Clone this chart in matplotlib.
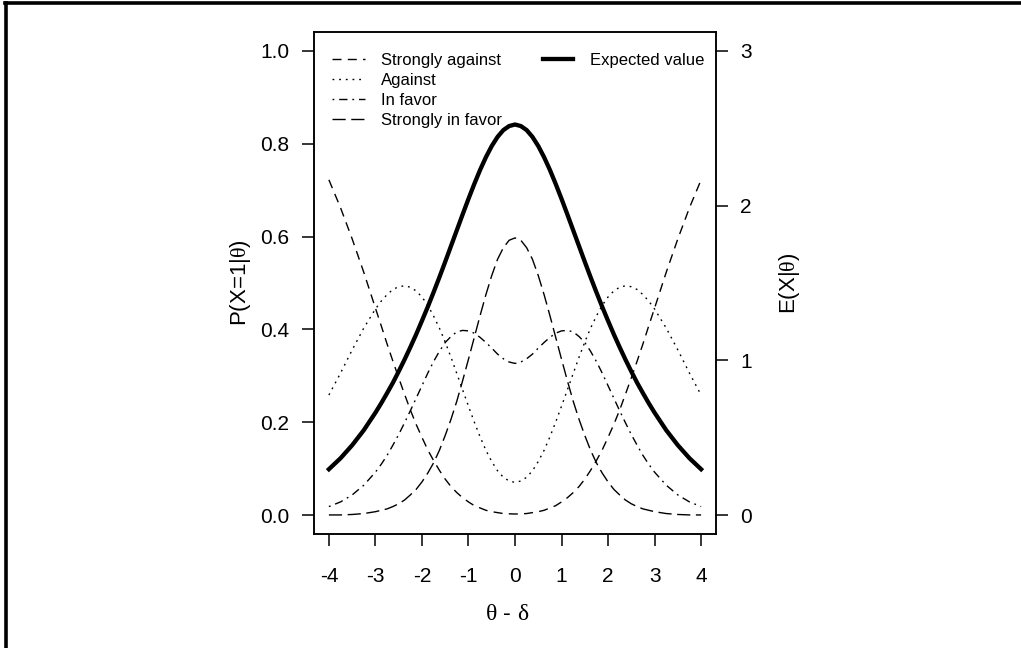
import matplotlib
matplotlib.use('Agg')
import matplotlib.pyplot as plt
from matplotlib.lines import Line2D
import numpy as np

plt.rcParams['font.family'] = ['Liberation Sans', 'DejaVu Sans']
plt.rcParams['mathtext.fontset'] = 'custom'
plt.rcParams['mathtext.rm'] = 'Liberation Serif'
plt.rcParams['mathtext.it'] = 'Liberation Serif:italic'

# theta - delta grid (left half, up to 0); the curves are symmetric about 0
half_theta = [-4.0, -3.75, -3.5, -3.25, -3.0, -2.875, -2.75, -2.625, -2.5, -2.375, -2.25,
              -2.125, -2.0, -1.875, -1.75, -1.625, -1.5, -1.375, -1.25, -1.125, -1.0,
              -0.875, -0.75, -0.625, -0.5, -0.375, -0.25, -0.125, 0.0]

half_strongly_against = [0.722, 0.662, 0.595, 0.523, 0.446, 0.408, 0.369, 0.332, 0.296, 0.261,
                         0.227, 0.196, 0.168, 0.141, 0.118, 0.097, 0.078, 0.062, 0.049, 0.038,
                         0.029, 0.021, 0.016, 0.011, 0.008, 0.006, 0.004, 0.0034, 0.003]
half_against = [0.259, 0.306, 0.356, 0.403, 0.444, 0.461, 0.475, 0.486, 0.492, 0.494, 0.491,
                0.483, 0.470, 0.452, 0.429, 0.403, 0.373, 0.340, 0.305, 0.270, 0.235, 0.201,
                0.169, 0.140, 0.116, 0.096, 0.082, 0.074, 0.071]
half_in_favor = [0.019, 0.029, 0.044, 0.065, 0.093, 0.110, 0.129, 0.151, 0.174, 0.199, 0.225,
                 0.252, 0.279, 0.306, 0.331, 0.353, 0.372, 0.385, 0.395, 0.398, 0.397, 0.392,
                 0.383, 0.372, 0.360, 0.347, 0.337, 0.330, 0.327]
half_strongly_in_favor = [0.001, 0.001, 0.002, 0.004, 0.008, 0.011, 0.014, 0.019, 0.025, 0.033,
                          0.044, 0.056, 0.072, 0.091, 0.113, 0.140, 0.172, 0.207, 0.246, 0.290,
                          0.336, 0.383, 0.430, 0.475, 0.516, 0.551, 0.576, 0.592, 0.597]
half_expected = [0.298, 0.369, 0.453, 0.550, 0.663, 0.724, 0.789, 0.856, 0.929, 1.005, 1.085,
                 1.168, 1.256, 1.346, 1.440, 1.537, 1.637, 1.739, 1.841, 1.943, 2.043, 2.139,
                 2.230, 2.312, 2.384, 2.443, 2.487, 2.513, 2.523]


def mirror(half):
    return half + half[-2::-1]


theta = half_theta + [-t for t in half_theta[-2::-1]]
strongly_against = mirror(half_strongly_against)
against = mirror(half_against)
in_favor = mirror(half_in_favor)
strongly_in_favor = mirror(half_strongly_in_favor)
expected = mirror(half_expected)

styles = [(6.5, 4.5), (1.3, 3.5), (1.3, 3.5, 6, 3.5), (9.5, 4)]
labels = ['Strongly against', 'Against', 'In favor', 'Strongly in favor']

fig = plt.figure(figsize=(10.21, 6.48), dpi=100)
ax = fig.add_axes([314 / 1021, 1 - 534 / 648, (716 - 314) / 1021, (534 - 32) / 648])
ax2 = ax.twinx()

lw = 1.0
for series, d in zip([strongly_against, against, in_favor, strongly_in_favor], styles):
    ax.plot(theta, series, color='black', lw=lw, dashes=d)
ax2.plot(theta, expected, color='black', lw=3.1)

ax.set_xlim(-4.32, 4.32)
ax.set_ylim(-0.04, 1.04)
ax2.set_ylim(-0.12, 3.12)
ax.set_xticks(np.arange(-4, 5, 1))
ax.set_xticklabels([str(v) for v in range(-4, 5)])
ax.set_yticks([0.0, 0.2, 0.4, 0.6, 0.8, 1.0])
ax.set_yticklabels(['0.0', '0.2', '0.4', '0.6', '0.8', '1.0'])
ax2.set_yticks([0, 1, 2, 3])
ax2.set_yticklabels(['0', '1', '2', '3'])

for a in (ax, ax2):
    for sp in a.spines.values():
        sp.set_linewidth(1.1)
ax.tick_params(axis='x', direction='out', length=8.6, width=1.1, pad=15.5, labelsize=15)
ax.tick_params(axis='y', direction='out', length=8.6, width=1.1, pad=9, labelsize=15)
ax2.tick_params(axis='y', direction='out', length=8.6, width=1.1, pad=9, labelsize=15)

ax.set_xlabel('$\\mathrm{\\theta}$ - $\\mathrm{\\delta}$', fontsize=17)
ax.xaxis.set_label_coords(0.48, -0.137)
ax.set_ylabel('P(X=1|$\\mathrm{\\theta}$)', fontsize=16, labelpad=5)
ax2.set_ylabel('E(X|$\\mathrm{\\theta}$)', fontsize=16, labelpad=18)

handles = [Line2D([], [], color='black', lw=lw, dashes=d) for d in styles]
leg1 = ax2.legend(handles, labels, loc='upper left', bbox_to_anchor=(0.015, 0.982), frameon=False,
                  fontsize=12, handlelength=2.0, handletextpad=0.95, labelspacing=0.31,
                  borderaxespad=0.3)
ax2.add_artist(leg1)
ax2.legend([Line2D([], [], color='black', lw=3.1)], ['Expected value'], loc='upper right',
           bbox_to_anchor=(1.0, 0.982), frameon=False, fontsize=12, handlelength=1.8,
           handletextpad=1.0, borderaxespad=0.3)

# outer frame (left and top edges only)
fig.add_artist(Line2D([5.5 / 1021, 5.5 / 1021], [0, 1 - 3 / 648], color='black', lw=2.6,
                      transform=fig.transFigure))
fig.add_artist(Line2D([4.5 / 1021, 1], [1 - 3 / 648, 1 - 3 / 648], color='black', lw=2.6,
                      transform=fig.transFigure))

fig.savefig('out.png', dpi=100)
